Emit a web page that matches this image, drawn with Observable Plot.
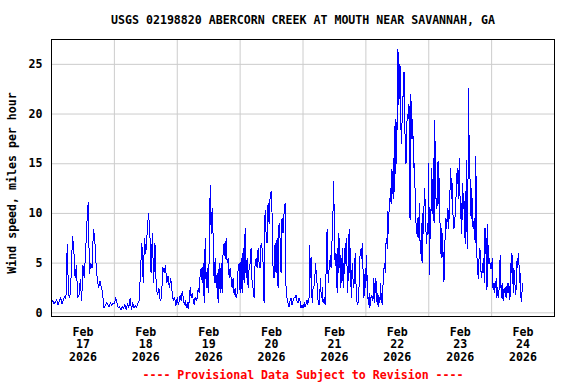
<!DOCTYPE html>
<html><head><meta charset="utf-8">
<script src="https://cdn.jsdelivr.net/npm/d3@7"></script>
<script src="https://cdn.jsdelivr.net/npm/@observablehq/plot@0.6"></script>
<style>body{margin:0;background:#fff}</style>
</head><body><div id="chart"></div>
<script>
const title = "USGS 02198820 ABERCORN CREEK AT MOUTH NEAR SAVANNAH, GA";
const yLabel = "Wind speed, miles per hour";
const caption = "---- Provisional Data Subject to Revision ----";
const yTicks = [0, 5, 10, 15, 20, 25];
const monthLabel = "Feb";
const yearLabel = "2026";
const dayLabels = ["17", "18", "19", "20", "21", "22", "23", "24"];

// Wind speed (mph), one array per day, evenly spaced readings
const feb17 = [1.0,1.2,0.9,1.1,1.3,0.8,1.2,1.5,0.9,1.3,1.6,1.4,6.9,1.8,1.5,3.7,7.7,6.5,3.5,4.8,1.5,1.8,3.4,1.2,4.8,3.5,6.0,9.0,11.1,4.0,5.0,4.5,8.4,7.5,5.0,3.3,2.5,3.2,2.6,2.0,0.5,0.7,1.0,0.8,0.6,1.0,0.7,1.0];
const feb18 = [0.9,1.5,1.0,0.5,0.6,0.3,0.6,0.4,0.8,0.3,0.9,0.5,1.5,0.3,1.0,0.5,0.7,0.5,1.0,1.2,4.5,7.0,3.0,7.5,6.0,8.0,10.0,8.5,4.0,8.0,3.0,7.0,2.5,1.8,2.5,1.2,1.5,4.6,4.0,4.8,3.0,3.7,2.5,3.5,2.2,1.2,1.5,0.7];
const feb19 = [1.5,0.8,1.2,1.8,1.2,2.2,1.5,0.8,1.2,0.5,1.0,0.4,1.2,2.6,1.5,2.0,1.3,0.8,1.6,1.2,1.5,2.5,2.0,4.0,4.5,3.0,5.0,1.0,7.5,2.5,4.5,2.0,5.5,12.8,8.0,10.5,7.5,3.0,5.5,2.5,4.0,1.0,5.0,2.0,5.0,2.0,6.5,7.0,5.5,7.5,5.0,5.5,3.5,4.5,3.5,2.5,3.5,1.8,2.5,1.5,2.0,4.5,5.0];
const feb20 = [2.0,5.5,2.0,6.5,3.0,8.5,3.5,5.5,2.5,4.5,5.0,6.5,3.0,2.5,1.5,5.0,5.5,4.5,6.5,5.0,4.5,7.0,6.5,5.0,1.0,10.3,8.0,7.0,11.0,9.0,11.6,12.2,10.0,4.5,3.5,7.0,4.0,7.5,2.5,9.0,7.5,4.0,9.5,8.0,10.0,11.0,2.5,1.5,1.0,0.6,1.2,1.5,0.8,1.2,1.5,1.5,1.8,1.2,1.0,1.5,1.2,0.5,0.8];
const feb21 = [0.5,0.8,1.0,0.6,0.7,1.1,1.3,0.8,1.2,1.5,
  6.8,3.5,5.6,2.0,1.0,2.5,2.6,2.8,4.0,5.0,
  3.5,3.0,1.5,1.0,0.8,1.5,3.5,2.0,1.5,2.5,
  1.0,1.3,1.5,0.8,2.5,6.0,8.4,4.5,3.0,4.5,
  5.0,5.8,4.5,6.5,8.5,10.5,13.2,7.0,5.0,6.0,
  2.5,6.5,2.0,8.0,4.5,7.5,2.5,5.5,3.0,6.5,
  2.5,5.0,4.0,7.0,5.0,7.5,4.0,2.0,6.0,8.4,
  4.0,6.5,1.5,4.0,5.0,3.0,2.5,4.0,6.0,3.5,
  1.2,1.0,0.8,1.5,3.0,5.5,6.2,6.5,5.5,7.0,
  3.5,1.5,2.5,4.5];
const feb22 = [2.5,5.8,3.0,1.5,0.8,2.0,0.5,1.5,1.5,1.8,
  1.2,1.5,3.5,1.0,2.5,3.5,1.5,0.8,2.0,0.6,
  1.5,1.0,3.0,1.0,2.0,0.8,4.0,4.5,5.0,4.0,
  7.0,7.5,6.5,10.2,8.0,11.5,11.0,12.5,11.0,14.5,
  12.0,15.5,11.5,18.8,14.0,19.5,15.0,21.2,26.5,21.0,
  22.0,25.0,20.0,17.0,19.0,21.5,22.0,24.2,19.0,17.0,
  15.0,18.5,20.0,19.5,21.0,20.5,9.3,22.0,20.5,17.5,
  19.5,16.0,14.5,15.0,10.0,9.0,8.0,9.5,7.5,8.5,
  11.0,7.0,6.0,9.0,5.0,10.0,8.0,11.0,12.5,10.0,
  8.0,7.0,9.0,8.0];
const feb23 = [15.0,3.9,9.0,7.5,14.5,10.0,12.0,15.5,9.0,19.4,
  14.8,11.5,10.5,11.0,15.3,11.0,13.5,9.0,6.0,8.5,
  5.5,8.0,4.5,3.1,7.0,7.5,9.5,8.5,9.5,10.5,
  8.5,10.0,12.0,14.5,11.5,13.5,10.5,9.5,8.5,9.0,
  10.0,11.0,14.0,13.0,14.5,11.5,15.5,12.5,9.5,11.0,
  8.0,13.0,10.5,12.0,9.5,7.0,11.0,15.3,6.5,9.0,
  22.6,17.0,14.5,11.5,9.5,12.5,10.0,8.5,9.0,9.5,
  7.0,15.7,11.0,5.0,4.0,3.5,5.5,6.5,6.0,4.0,
  3.5,5.0,4.0,5.5,3.0,8.5,6.0,7.5,2.3,8.9,
  5.0,5.0,5.5,4.5,5.0];
const feb24 = [4.5,5.5,2.5,3.0,2.0,3.0,2.5,3.5,1.5,2.5,
  1.5,2.0,3.0,5.8,3.0,1.5,3.0,1.5,1.2,2.5,
  2.0,2.5,1.5,2.5,3.0,2.0,3.0,2.5,1.3,5.0,
  4.0,6.0,4.5,2.0,4.5,3.5,2.5,1.8,4.0,5.5,
  4.5,6.0,4.5,3.0,4.0,1.1,1.5,3.0,2.5];

const days = [feb17, feb18, feb19, feb20, feb21, feb22, feb23, feb24];
const daySpanHours = [24, 24, 24, 24, 24, 24, 24, 12.25];

const data = [];
days.forEach((vals, d) => {
  const step = daySpanHours[d] / vals.length;
  vals.forEach((v, i) => {
    data.push({t: new Date(Date.UTC(2026, 1, 17 + d) + i * step * 3600e3), v});
  });
});

const start = new Date(Date.UTC(2026, 1, 17));
const end = new Date(Date.UTC(2026, 1, 25));
const midnights = d3.range(1, 8).map(k => new Date(Date.UTC(2026, 1, 17 + k)));
const noons = dayLabels.map((s, k) => new Date(Date.UTC(2026, 1, 17 + k, 12)));

const chart = Plot.plot({
  width: 576, height: 384,
  marginTop: 39, marginBottom: 68, marginLeft: 51, marginRight: 22,
  style: {fontFamily: "'DejaVu Sans Mono', monospace", fontSize: "11.6px", fontWeight: "bold", color: "black", background: "white", overflow: "visible"},
  x: {type: "utc", domain: [start, end]},
  y: {domain: [-0.37, 27.5]},
  marks: [
    Plot.gridY(yTicks, {stroke: "#cccccc", strokeOpacity: 1}),
    Plot.ruleX(midnights, {stroke: "#cccccc", strokeOpacity: 1}),
    Plot.line(data, {x: "t", y: "v", stroke: "#0000ff", strokeWidth: 1, shapeRendering: "crispEdges"}),
    Plot.frame({stroke: "black"}),
    Plot.axisY(yTicks, {tickSize: 0, tickPadding: 9, label: null}),
    Plot.axisX(noons, {tickSize: 0, tickPadding: 10, label: null, lineHeight: 1.1,
      tickFormat: d => `${monthLabel}\n${dayLabels[d.getUTCDate() - 17]}\n${yearLabel}`}),
    Plot.text([title], {frameAnchor: "top", dy: -19.5, lineAnchor: "middle"}),
    Plot.text([caption], {frameAnchor: "bottom", dy: 59, fill: "red", lineAnchor: "middle"}),
    Plot.text([yLabel], {frameAnchor: "left", dx: -39, dy: 5, rotate: -90, textAnchor: "middle", lineAnchor: "middle"})
  ]
});
document.getElementById("chart").appendChild(chart);
</script>
</body></html>
